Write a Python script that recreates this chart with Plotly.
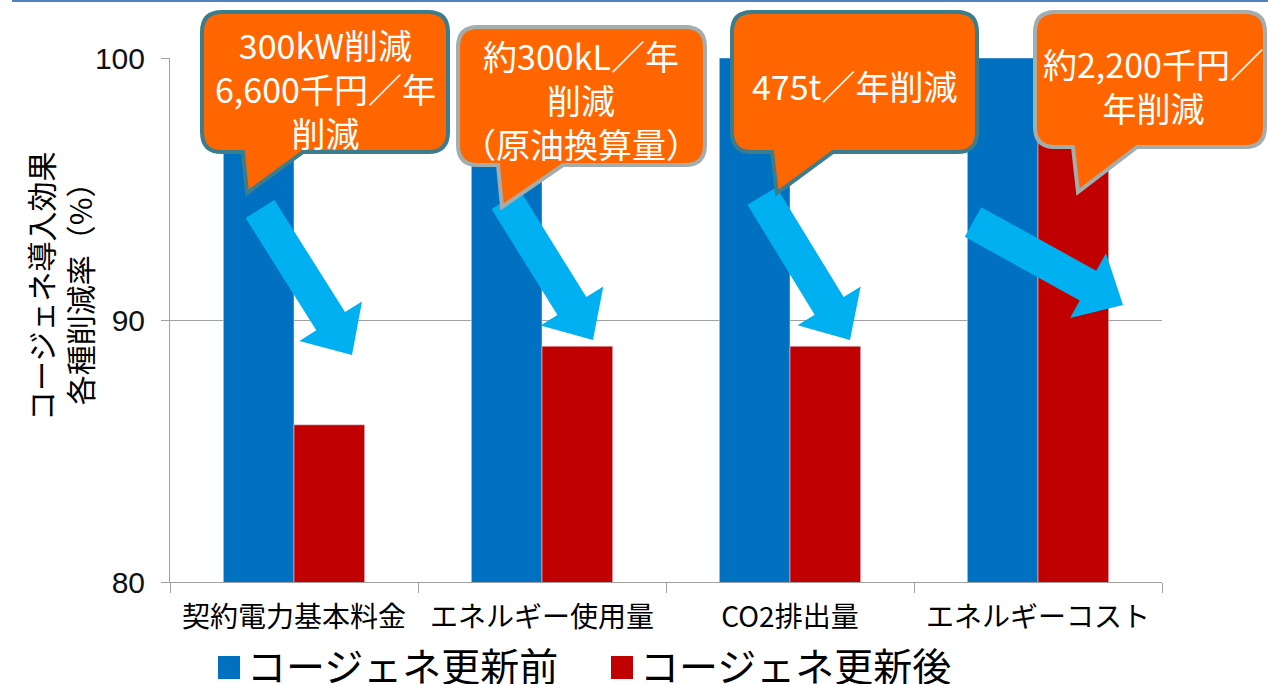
import plotly.graph_objects as go

# ── data ──────────────────────────────────────────────────────────────────────
categories = ["契約電力基本料金", "エネルギー使用量", "CO2排出量", "エネルギーコスト"]
series_names = ["コージェネ更新前", "コージェネ更新後"]
before = [100, 100, 100, 100]
after = [86, 89, 89, 97]
y_ticks = [80, 90, 100]
callout_texts = [
    "300kW削減<br>6,600千円／年<br>削減",
    "約300kL／年<br>削減<br>（原油換算量）",
    "475t／年削減",
    "約2,200千円／<br>年削減",
]

BLUE = "#0070C0"
RED = "#C00000"
ORANGE = "#FF6600"
TEAL_EDGE = "#3B7D8C"
GRAY_EDGE = "#A3ADAC"
ARROW = "#00B0F0"
AXIS = "#A0A0A0"
CJK = "Noto Sans CJK JP"

W, H = 1268, 684
L, R, T, B = 170, 106, 58, 102
PW, PH = W - L - R, H - T - B


def px(x, y):
    """page pixels -> paper coords"""
    return (x - L) / PW, (H - B - y) / PH


def poly(points):
    return "M " + " L ".join(f"{a:.5f},{b:.5f}" for a, b in (px(x, y) for x, y in points)) + " Z"


def callout_path(x0, y0, x1, y1, tail, r=20):
    # rounded box with a speech tail hanging from the bottom edge
    ta, (tx, ty), tb = tail
    pts = []
    segs = [
        ("M", [(x0 + r, y0)]), ("L", [(x1 - r, y0)]), ("Q", [(x1, y0), (x1, y0 + r)]),
        ("L", [(x1, y1 - r)]), ("Q", [(x1, y1), (x1 - r, y1)]),
        ("L", [(tb, y1)]), ("L", [(tx, ty)]), ("L", [(ta, y1)]),
        ("L", [(x0 + r, y1)]), ("Q", [(x0, y1), (x0, y1 - r)]),
        ("L", [(x0, y0 + r)]), ("Q", [(x0, y0), (x0 + r, y0)]),
    ]
    for cmd, p in segs:
        pts.append(cmd + " " + " ".join("%.5f,%.5f" % px(*q) for q in p))
    return " ".join(pts) + " Z"


def arrow_pts(s, t, w=34, hw=74, hl=40):
    dx, dy = t[0] - s[0], t[1] - s[1]
    n = (dx * dx + dy * dy) ** 0.5
    ux, uy = dx / n, dy / n
    nx, ny = -uy, ux
    bx, by = t[0] - ux * hl, t[1] - uy * hl
    return [
        (s[0] + nx * w / 2, s[1] + ny * w / 2), (bx + nx * w / 2, by + ny * w / 2),
        (bx + nx * hw / 2, by + ny * hw / 2), t,
        (bx - nx * hw / 2, by - ny * hw / 2), (bx - nx * w / 2, by - ny * w / 2),
        (s[0] - nx * w / 2, s[1] - ny * w / 2),
    ]


fig = go.Figure()
fig.add_bar(x=categories, y=before, name=series_names[0], marker_color=BLUE)
fig.add_bar(x=categories, y=after, name=series_names[1], marker_color=RED)

fig.update_layout(
    width=W, height=H, margin=dict(l=L, r=R, t=T, b=B, autoexpand=False),
    paper_bgcolor="white", plot_bgcolor="white",
    barmode="group", bargap=0.43, bargroupgap=0,
    showlegend=False,
    font=dict(family=CJK, color="#000"),
)
fig.update_yaxes(range=[80, 100], tickvals=y_ticks, showgrid=True, gridcolor=AXIS,
                 showline=True, linecolor=AXIS, ticks="outside", ticklen=8, tickcolor=AXIS,
                 zeroline=False, ticklabelstandoff=10, automargin=False,
                 tickfont=dict(family="Liberation Sans", size=30, color="#111"))
fig.update_xaxes(showline=True, linecolor=AXIS, ticks="outside", tickson="boundaries",
                 ticklen=10, tickcolor=AXIS, ticklabelstandoff=10, automargin=False,
                 tickfont=dict(family=CJK, size=28, color="#000"))

shapes = []
# thin rule along the very top of the slide
shapes.append(dict(type="line", xref="paper", yref="paper",
                   x0=px(12, 1)[0], x1=px(W, 1)[0], y0=px(0, 1)[1], y1=px(0, 1)[1],
                   line=dict(color="#4F81BD", width=2)))

# arrows (before -> after)
arrows = [((260, 209), (352, 355)), ((506, 200), (593, 340)),
          ((762, 196), (850, 340)), ((973, 222), (1123, 305))]
for s, t in arrows:
    shapes.append(dict(type="path", xref="paper", yref="paper", path=poly(arrow_pts(s, t)),
                       fillcolor=ARROW, line=dict(width=0)))

# callout boxes
boxes = [
    (202, 12, 448, 152, (243, (247, 193), 303), TEAL_EDGE),
    (458, 27, 705, 165, (498, (502, 207), 563), GRAY_EDGE),
    (732, 12, 977, 152, (772, (777, 193), 833), TEAL_EDGE),
    (1035, 12, 1265, 147, (1073, (1078, 192), 1137), GRAY_EDGE),
]
for x0, y0, x1, y1, tail, edge in boxes:
    shapes.append(dict(type="path", xref="paper", yref="paper",
                       path=callout_path(x0, y0, x1, y1, tail),
                       fillcolor=ORANGE, line=dict(color=edge, width=4)))

# legend squares
legend_sq = [(218, BLUE), (611, RED)]
for x, c in legend_sq:
    a = px(x, 656)
    b = px(x + 22, 679)
    shapes.append(dict(type="rect", xref="paper", yref="paper", x0=a[0], x1=b[0],
                       y0=b[1], y1=a[1], fillcolor=c, line=dict(width=0)))
fig.update_layout(shapes=shapes)

ann = []
text_pos = [(325, 88), (581, 100), (854, 85), (1153, 85)]
for (x, y), txt in zip(text_pos, callout_texts):
    p = px(x, y)
    ann.append(dict(x=p[0], y=p[1], xref="paper", yref="paper", text=txt, showarrow=False,
                    xanchor="center", yanchor="middle",
                    font=dict(family=CJK, size=34, color="white"), align="center"))

# legend text
for (x, _), name in zip(legend_sq, series_names):
    p = px(x + 27, 664)
    ann.append(dict(x=p[0], y=p[1], xref="paper", yref="paper", text=name, showarrow=False,
                    xanchor="left", yanchor="middle", font=dict(family=CJK, size=39, color="#000")))

# y-axis title
p = px(59, 287)
ann.append(dict(x=p[0], y=p[1], xref="paper", yref="paper", textangle=-90, showarrow=False,
                xanchor="center", yanchor="middle",
                text="コージェネ導入効果<br>各種削減率（%）",
                font=dict(family=CJK, size=30, color="#000")))
fig.update_layout(annotations=ann)

# drop the browser's default 8px body margin so the figure sits at the page corner
fig.write_html("out.html", config={"displayModeBar": False},
               post_script="document.body.style.margin='0';")
